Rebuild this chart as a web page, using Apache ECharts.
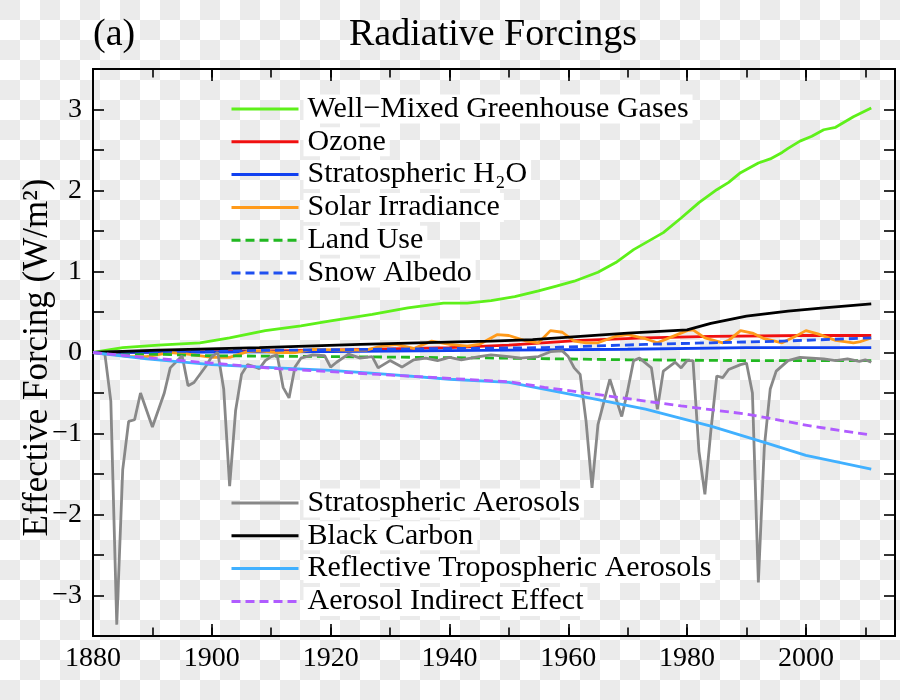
<!DOCTYPE html>
<html><head><meta charset="utf-8">
<script src="https://cdn.jsdelivr.net/npm/echarts@6/dist/echarts.min.js"></script>
<style>
html,body{margin:0;padding:0;background:#fff;}
#c{width:900px;height:700px;background:repeating-conic-gradient(#ebebeb 0% 25%, #ffffff 0% 50%) 20px 0/40px 40px;}
</style></head><body><div id="c"></div>
<script>
// ---- data (years / values) ----
const wmghgYears = [1880,1885,1891,1898,1903,1909,1915,1920,1927,1933,1939,1943,1947,1951,1955,1958,1961,1965,1968,1971,1976,1979,1982,1985,1987,1989,1992,1994,1996,1997,1999,2001,2003,2005,2008,2011];
const wmghgVals  = [0,0.06,0.09,0.12,0.18,0.27,0.33,0.39,0.47,0.55,0.61,0.61,0.64,0.69,0.76,0.82,0.88,0.99,1.11,1.27,1.48,1.66,1.85,2.01,2.10,2.22,2.34,2.39,2.47,2.52,2.61,2.67,2.75,2.78,2.91,3.02];

const ozoneYears = [1880,1900,1920,1940,1950,1962,1973,1984,2000,2011];
const ozoneVals  = [0,0.01,0.03,0.06,0.09,0.15,0.18,0.20,0.21,0.21];

const h2oYears = [1880,1920,1950,1970,1990,2011];
const h2oVals  = [0,0.01,0.03,0.04,0.06,0.06];

const solarYears = [1880,1883,1886,1889,1893,1896,1900,1903,1906,1908,1911,1914,1917,1922,1926,1928,1931,1934,1937,1940,1943,1945,1948,1950,1953,1955,1957,1959,1961,1963,1965,1968,1970,1973,1975,1977,1980,1981,1983,1986,1987,1989,1991,1993,1996,1998,2000,2002,2005,2008,2009,2011];
const solarVals  = [0,-0.02,-0.05,-0.05,0.0,-0.02,-0.06,-0.06,0.01,0.02,0.0,0.0,0.04,0.03,0.03,0.07,0.10,0.05,0.14,0.10,0.08,0.10,0.22,0.21,0.14,0.12,0.27,0.25,0.14,0.12,0.12,0.20,0.22,0.17,0.12,0.18,0.27,0.28,0.18,0.12,0.15,0.27,0.24,0.17,0.12,0.19,0.27,0.23,0.15,0.12,0.13,0.18];

const landYears = [1880,1900,1920,1950,1970,1990,2011];
const landVals  = [0,-0.04,-0.05,-0.07,-0.09,-0.10,-0.10];

const snowYears = [1880,1900,1928,1956,1973,1984,1996,2011];
const snowVals  = [0,0.02,0.04,0.06,0.10,0.12,0.14,0.18];

const stratYears = [1880,1882,1883,1884,1885,1886,1887,1888,1890,1892,1893,1895,1896,1897,1899,1900,1901,1902,1903,1904,1905,1906,1907,1908,1909,1910,1911,1912,1913,1914,1915,1917,1919,1920,1921,1923,1925,1927,1928,1930,1932,1934,1936,1938,1940,1942,1945,1947,1950,1952,1955,1957,1959,1960,1961,1962,1963,1964,1965,1967,1968,1969,1970,1971,1972,1974,1975,1976,1978,1979,1980,1981,1982,1983,1984,1985,1986,1987,1989,1990,1991,1992,1993,1994,1995,1997,1999,2001,2003,2005,2007,2009,2010,2011];
const stratVals  = [0,-0.02,-0.6,-3.36,-1.45,-0.85,-0.83,-0.50,-0.92,-0.50,-0.19,-0.04,-0.41,-0.37,-0.17,-0.05,0,-0.45,-1.65,-0.72,-0.27,-0.15,-0.17,-0.20,-0.10,-0.05,-0.03,-0.43,-0.56,-0.18,-0.07,-0.03,-0.04,-0.18,-0.12,-0.02,-0.07,-0.05,-0.19,-0.10,-0.18,-0.09,-0.07,-0.10,-0.06,-0.09,-0.05,-0.03,-0.05,-0.07,-0.05,0.01,0.02,-0.05,-0.19,-0.27,-0.85,-1.67,-0.89,-0.33,-0.56,-0.79,-0.47,-0.10,-0.07,-0.19,-0.70,-0.23,-0.12,-0.19,-0.10,-0.10,-1.22,-1.75,-0.97,-0.29,-0.31,-0.21,-0.15,-0.13,-0.5,-2.84,-1.17,-0.45,-0.23,-0.10,-0.06,-0.07,-0.08,-0.10,-0.08,-0.11,-0.09,-0.12];

const bcYears = [1880,1891,1908,1925,1941,1947,1954,1962,1970,1980,1984,1990,1997,2003,2011];
const bcVals  = [0,0.03,0.06,0.10,0.13,0.14,0.16,0.20,0.24,0.28,0.36,0.45,0.51,0.55,0.60];

const reflYears = [1880,1889,1900,1911,1920,1928,1940,1950,1962,1973,1984,1993,2000,2011];
const reflVals  = [0,-0.08,-0.15,-0.19,-0.22,-0.26,-0.33,-0.37,-0.54,-0.70,-0.91,-1.11,-1.27,-1.44];

const aieYears = [1880,1890,1900,1911,1928,1940,1950,1956,1968,1979,1990,2001,2011];
const aieVals  = [0,-0.07,-0.13,-0.20,-0.27,-0.32,-0.36,-0.43,-0.55,-0.66,-0.76,-0.91,-1.02];

const seriesNames = ['Well\u2212Mixed Greenhouse Gases','Ozone','Stratospheric H\u2082O','Solar Irradiance','Land Use','Snow Albedo','Stratospheric Aerosols','Black Carbon','Reflective Tropospheric Aerosols','Aerosol Indirect Effect'];
const xTickLabels = [1880,1900,1920,1940,1960,1980,2000];
const yTickLabels = [-3,-2,-1,0,1,2,3];

// ---- build ----
const FONT = '"Liberation Serif","Times New Roman",serif';
function pairs(xs, vs){ return xs.map((x,i)=>[x, vs[i]]); }
const defs = [
  [wmghgYears, wmghgVals, '#5ef01a', 'solid'],
  [ozoneYears, ozoneVals, '#f01010', 'solid'],
  [h2oYears, h2oVals, '#1040f0', 'solid'],
  [solarYears, solarVals, '#ff9a1a', 'solid'],
  [landYears, landVals, '#22b822', [9,5]],
  [snowYears, snowVals, '#1e4ff0', [9,5]],
  [stratYears, stratVals, '#888888', 'solid'],
  [bcYears, bcVals, '#000000', 'solid'],
  [reflYears, reflVals, '#40b0ff', 'solid'],
  [aieYears, aieVals, '#b05cff', [9,5]]
];
const series = defs.map((d,i)=>({
  name: seriesNames[i], type:'line', data: pairs(d[0], d[1]),
  symbol:'none', showSymbol:false, animation:false,
  xAxisIndex:0, yAxisIndex:0,
  lineStyle:{color:d[2], width:2.8, type:d[3]}, itemStyle:{color:d[2]}
}));

function xAx(pos, interval, len, labels){
  return {type:'value', min:1880, max:2015, interval:interval, position:pos,
    axisLine:{show:true, onZero:false, lineStyle:{color:'#000', width:2}},
    axisTick:{show:true, inside:true, length:len, lineStyle:{color:'#000', width:1.6}},
    axisLabel:{show:labels, margin:9, fontFamily:FONT, fontSize:28, color:'#000',
      formatter:v => xTickLabels.indexOf(v) >= 0 ? String(v) : ''},
    splitLine:{show:false}};
}
function yAx(pos, labels){
  return {type:'value', min:-3.5, max:3.5, interval:0.5, position:pos,
    axisLine:{show:true, onZero:false, lineStyle:{color:'#000', width:2}},
    axisTick:{show:true, inside:true, length:11, lineStyle:{color:'#000', width:1.6}},
    axisLabel:{show:labels, margin:11, fontFamily:FONT, fontSize:28, color:'#000',
      formatter:v => yTickLabels.indexOf(v) >= 0 ? (v < 0 ? '\u2212' + (-v) : String(v)) : ''},
    splitLine:{show:false},
    name: labels ? 'Effective Forcing (W/m\u00b2)' : '', nameLocation:'middle', nameGap:38,
    nameMoveOverlap:false,
    nameTextStyle:{fontFamily:FONT, fontSize:35, color:'#000', padding:[0,10,0,0]}};
}

const legendText = {fontFamily:FONT, fontSize:30, color:'#000', backgroundColor:'#fff', padding:[0,4,0,4], lineHeight:29};
const legendCommon = {orient:'vertical', left:230, itemWidth:67, itemHeight:2, itemGap:2.8,
  textStyle:legendText, padding:0, itemStyle:{opacity:0}, lineStyle:{width:3}};
const chart = echarts.init(document.getElementById('c'), null, {renderer:'canvas'});
chart.setOption({
  backgroundColor:'transparent',
  animation:false,
  title:[
    {text:'(a)', left:93, top:16, padding:0, textStyle:{fontFamily:FONT, fontSize:38, fontWeight:'normal', color:'#000'}},
    {text:'Radiative Forcings', left:349, top:16, padding:0, textStyle:{fontFamily:FONT, fontSize:38, fontWeight:'normal', color:'#000'}}
  ],
  grid:{left:93, right:5, top:69, bottom:64, containLabel:false},
  xAxis:[xAx('bottom',20,12,true), xAx('bottom',10,8.5,false), xAx('top',20,12,false), xAx('top',10,8.5,false)],
  yAxis:[yAx('left',true), yAx('right',false)],
  legend:[
    Object.assign({data:seriesNames.slice(0,6), top:94}, legendCommon),
    Object.assign({data:seriesNames.slice(6), top:488}, legendCommon)
  ],
  series: series
});
</script></body></html>
